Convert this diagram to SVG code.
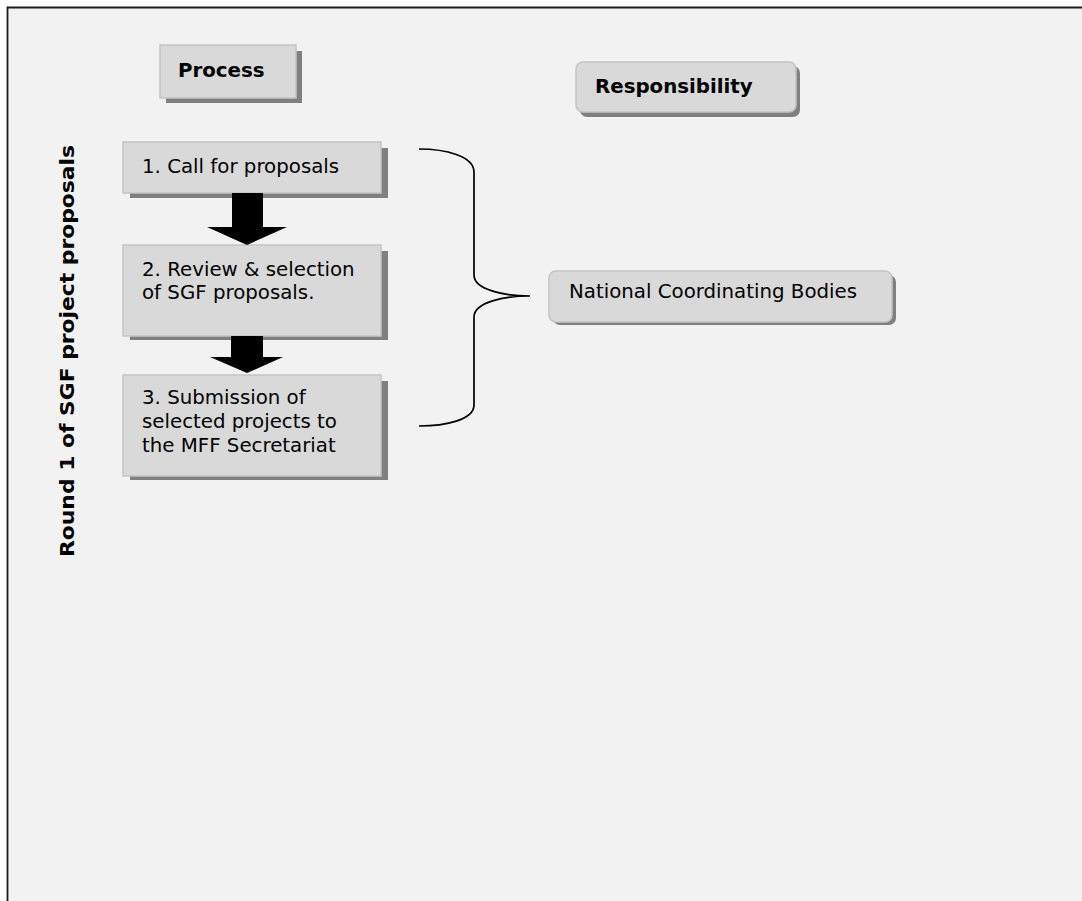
<svg xmlns="http://www.w3.org/2000/svg" width="1082" height="901" viewBox="0 0 1082 901">
<style>
.bg{fill:#f2f2f2}
.box{fill:#d9d9d9;stroke:#c3c3c3;stroke-width:1.5}
.sh{fill:#808080}
.t{font-family:"DejaVu Sans",Verdana,sans-serif;font-size:19.8px;fill:#000}
.b{font-weight:bold}
.arr{fill:#000}
.brace{fill:none;stroke:#000;stroke-width:1.7}
</style>
<rect x="0" y="0" width="1082" height="901" fill="#ffffff"/>
<rect class="bg" x="7" y="8" width="1075" height="893"/>
<path d="M7.5 901 V7.5 H1082" fill="none" stroke="#1a1a1a" stroke-width="1.8"/>

<g id="process">
<rect class="sh" x="166" y="51" width="136" height="52"/>
<rect class="box" x="160" y="45" width="136" height="53"/>
<text class="t b" x="178" y="77">Process</text>
</g>

<g id="responsibility">
<rect class="sh" x="580" y="66" width="220" height="51" rx="7"/>
<rect class="box" x="576" y="62" width="220" height="50" rx="7"/>
<text class="t b" x="595" y="93">Responsibility</text>
</g>

<g id="step1">
<rect class="sh" x="130" y="148" width="258" height="50"/>
<rect class="box" x="123" y="142" width="258" height="51"/>
<text class="t" x="142" y="173">1. Call for proposals</text>
</g>

<g id="step2">
<rect class="sh" x="130" y="251" width="258" height="89"/>
<rect class="box" x="123" y="245" width="258" height="91"/>
<text class="t" x="142" y="276">2. Review &amp; selection</text>
<text class="t" x="142" y="299">of SGF proposals.</text>
</g>

<g id="step3">
<rect class="sh" x="130" y="381" width="258" height="99"/>
<rect class="box" x="123" y="375" width="258" height="101"/>
<text class="t" x="142" y="404">3. Submission of</text>
<text class="t" x="142" y="428">selected projects to</text>
<text class="t" x="142" y="452">the MFF Secretariat</text>
</g>

<g id="ncb">
<rect class="sh" x="553" y="275" width="343" height="50" rx="7"/>
<rect class="box" x="549" y="271" width="343" height="51" rx="7"/>
<text class="t" x="569" y="298">National Coordinating Bodies</text>
</g>

<g id="round-label">
<text class="t b" font-size="19.5" text-anchor="middle" transform="translate(74 351) rotate(-90)" textLength="412" lengthAdjust="spacingAndGlyphs">Round 1 of SGF project proposals</text>
</g>

<g id="connectors">
<path class="arr" d="M232 193 H263 V227 H287 L247 245 L207 227 H232 Z"/>
<path class="arr" d="M231 336 H263 V357 H283 L247 373 L210 357 H231 Z"/>
<path class="brace" d="M419 149 C445 149 474 156 474 172 V275 C474 290 505 296 530 296 C505 296 474 302 474 317 V405 C474 420 445 426 419 426"/>
</g>
</svg>
